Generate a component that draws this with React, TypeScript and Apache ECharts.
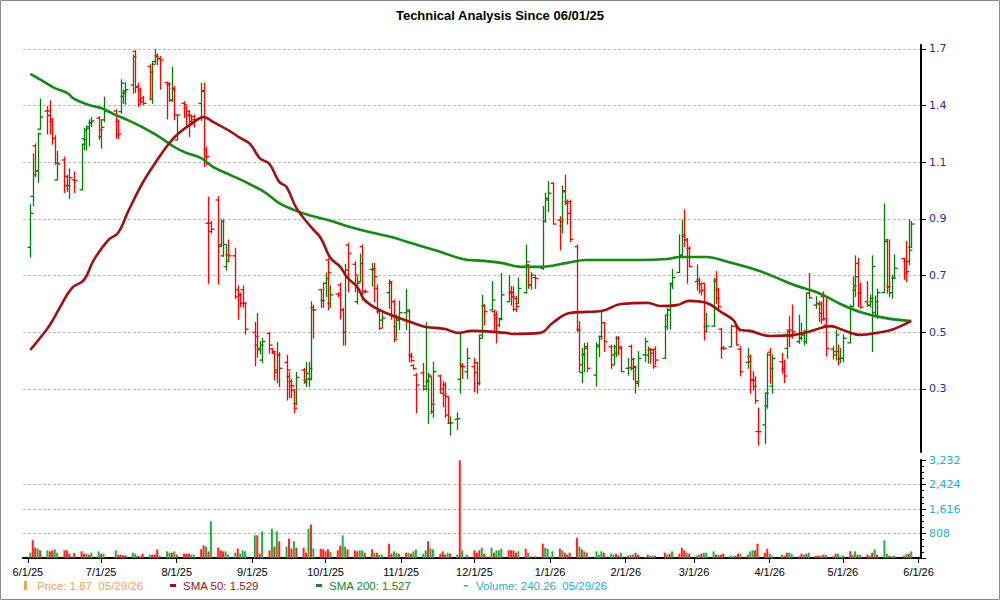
import React, { useEffect, useRef } from 'react';
import * as echarts from 'echarts';

const TITLE = 'Technical Analysis Since 06/01/25';

// Trading calendar
const FIRST_TRADING_DAY = '2025-06-02';
const LAST_TRADING_DAY = '2026-05-29';
const HOLIDAYS = ['2025-06-19', '2025-07-04', '2025-09-01', '2025-11-27', '2025-12-25', '2026-01-01', '2026-01-19', '2026-02-16', '2026-04-03', '2026-05-25'];
const AXIS_START = '2025-05-30';
const AXIS_END = '2026-06-02';
const X_TICK_DATES = ['2025-06-01', '2025-07-01', '2025-08-01', '2025-09-01', '2025-10-01', '2025-11-01', '2025-12-01', '2026-01-01', '2026-02-01', '2026-03-01', '2026-04-01', '2026-05-01', '2026-06-01'];

// Price axis: tick positions and the labels printed at them
const PRICE_TICK_VALUES = [0.3, 0.5, 0.7, 0.9, 1.1, 1.3, 1.5];
const PRICE_TICK_LABELS = ['0.3', '0.5', '0.7', '0.9', '1.1', '1.4', '1.7'];
const VOLUME_MAX = 3232;
const VOLUME_STEP = 808;

type Bar = [number, number, number, number] | null; // open, high, low, close

const junBars: Bar[] = [
  [0.80, 0.95, 0.765, 0.92], [0.98, 1.13, 0.947, 1.056], [1.158, 1.165, 1.05, 1.07], [1.07, 1.203, 1.03, 1.2], [1.217, 1.323, 1.217, 1.26],
  [1.281, 1.297, 1.2, 1.265], [1.281, 1.317, 1.2, 1.253], [1.244, 1.252, 1.164, 1.184], [1.184, 1.194, 1.093, 1.097], [1.038, 1.139, 1.038, 1.094],
  [1.108, 1.118, 0.994, 1.018], [1.05, 1.054, 0.997, 1.018], [1.018, 1.077, 0.973, 1.046], [1.038, 1.066, 0.994, 1.035], [1.003, 1.164, 1.003, 1.164],
  [1.183, 1.22, 1.144, 1.214], [1.18, 1.228, 1.144, 1.22], [1.226, 1.25, 1.158, 1.24], [1.238, 1.258, 1.226, 1.246], [1.256, 1.261, 1.181, 1.214],
];
const julBars: Bar[] = [
  [1.19, 1.25, 1.15, 1.223], [1.25, 1.33, 1.244, 1.279], null, [1.281, 1.285, 1.185, 1.197], [1.244, 1.25, 1.183, 1.2],
  [1.279, 1.391, 1.273, 1.379], [1.332, 1.356, 1.308, 1.35], [1.344, 1.381, 1.305, 1.356], [1.373, 1.479, 1.344, 1.473], [1.491, 1.493, 1.346, 1.367],
  [1.365, 1.379, 1.297, 1.32], [1.356, 1.361, 1.303, 1.314], [1.326, 1.332, 1.303, 1.308], [1.438, 1.444, 1.32, 1.418], [1.323, 1.456, 1.308, 1.446],
  [1.456, 1.499, 1.45, 1.473], [1.476, 1.483, 1.444, 1.465], [1.467, 1.473, 1.358, 1.461], [1.381, 1.383, 1.253, 1.379], [1.373, 1.379, 1.314, 1.32],
  [1.318, 1.435, 1.314, 1.356], [1.361, 1.367, 1.25, 1.267],
];
const augBars: Bar[] = [
  [1.179, 1.267, 1.179, 1.267], [1.308, 1.314, 1.259, 1.303], [1.291, 1.297, 1.232, 1.267], [1.279, 1.283, 1.191, 1.244], [1.264, 1.267, 1.232, 1.25],
  [1.261, 1.267, 1.224, 1.25], [1.308, 1.379, 1.247, 1.35], [1.353, 1.379, 1.085, 1.12], [1.144, 1.153, 1.091, 1.12], [0.885, 0.977, 0.673, 0.856],
  [0.885, 0.891, 0.85, 0.864], [0.967, 0.979, 0.67, 0.803], [0.809, 0.897, 0.803, 0.891], [0.77, 0.897, 0.767, 0.81], [0.732, 0.808, 0.72, 0.75],
  [0.773, 0.826, 0.75, 0.77], [0.77, 0.797, 0.62, 0.625], [0.65, 0.664, 0.546, 0.632], [0.632, 0.638, 0.591, 0.602], [0.65, 0.664, 0.588, 0.602],
  [0.602, 0.605, 0.494, 0.511],
];
const sepBars: Bar[] = [
  [0.5, 0.535, 0.382, 0.485], [0.455, 0.567, 0.412, 0.444], [0.438, 0.467, 0.424, 0.455], [0.402, 0.479, 0.393, 0.467], [0.496, 0.5, 0.426, 0.455],
  [0.442, 0.444, 0.428, 0.432], [0.426, 0.432, 0.332, 0.359], [0.367, 0.464, 0.322, 0.42], [0.42, 0.428, 0.308, 0.373], [0.394, 0.419, 0.261, 0.367],
  [0.344, 0.359, 0.269, 0.311], [0.326, 0.334, 0.269, 0.311], [0.296, 0.299, 0.216, 0.232], [0.249, 0.358, 0.244, 0.341], [0.367, 0.373, 0.32, 0.324],
  [0.33, 0.393, 0.308, 0.335], [0.355, 0.393, 0.308, 0.373], [0.335, 0.608, 0.332, 0.579], [0.588, 0.596, 0.479, 0.579], [0.65, 0.652, 0.588, 0.612],
  [0.612, 0.673, 0.588, 0.673],
];
const octBars: Bar[] = [
  [0.673, 0.71, 0.626, 0.69], [0.755, 0.76, 0.58, 0.71], [0.602, 0.664, 0.588, 0.632], [0.635, 0.64, 0.625, 0.632], [0.667, 0.673, 0.547, 0.579],
  [0.579, 0.585, 0.455, 0.5], [0.5, 0.74, 0.455, 0.72], [0.808, 0.814, 0.643, 0.779], [0.74, 0.749, 0.643, 0.702], [0.608, 0.696, 0.6, 0.673],
  [0.679, 0.776, 0.679, 0.743], [0.802, 0.808, 0.614, 0.643], [0.645, 0.65, 0.64, 0.643], [0.722, 0.743, 0.663, 0.725], [0.72, 0.743, 0.608, 0.696],
  [0.655, 0.667, 0.567, 0.575], [0.573, 0.579, 0.51, 0.514], [0.543, 0.567, 0.517, 0.55], [0.64, 0.685, 0.585, 0.679], [0.673, 0.679, 0.546, 0.555],
  [0.608, 0.614, 0.467, 0.475], [0.52, 0.561, 0.482, 0.543], [0.543, 0.61, 0.51, 0.569],
];
const novBars: Bar[] = [
  [0.569, 0.652, 0.51, 0.579], [0.573, 0.579, 0.396, 0.414], [0.42, 0.426, 0.396, 0.4], [0.383, 0.385, 0.369, 0.372], [0.349, 0.355, 0.216, 0.314],
  [0.357, 0.39, 0.296, 0.3], [0.31, 0.534, 0.296, 0.33], [0.326, 0.355, 0.179, 0.349], [0.343, 0.343, 0.214, 0.246], [0.22, 0.394, 0.2, 0.361],
  [0.346, 0.349, 0.285, 0.285], [0.3, 0.326, 0.237, 0.279], [0.314, 0.322, 0.2, 0.208], [0.273, 0.273, 0.181, 0.181], [0.179, 0.202, 0.137, 0.18],
  [0.193, 0.216, 0.157, 0.195], [0.334, 0.496, 0.285, 0.379], [0.385, 0.39, 0.337, 0.379], [0.361, 0.443, 0.337, 0.408],
];
const decBars: Bar[] = [
  [0.379, 0.408, 0.29, 0.357], [0.393, 0.393, 0.285, 0.32], [0.32, 0.49, 0.314, 0.49], [0.479, 0.63, 0.479, 0.596], [0.593, 0.596, 0.526, 0.573],
  [0.579, 0.679, 0.579, 0.614], [0.573, 0.579, 0.499, 0.549], [0.561, 0.573, 0.463, 0.502], [0.525, 0.549, 0.52, 0.545], [0.549, 0.708, 0.546, 0.632],
  [0.608, 0.699, 0.608, 0.643], [0.64, 0.661, 0.596, 0.626], [0.64, 0.661, 0.575, 0.581], [0.62, 0.626, 0.573, 0.591], [0.602, 0.691, 0.602, 0.655],
  [0.64, 0.808, 0.638, 0.749], [0.738, 0.74, 0.655, 0.667], [0.667, 0.711, 0.652, 0.702], [0.693, 0.702, 0.655, 0.69], [0.726, 0.944, 0.722, 0.891],
  [0.891, 0.991, 0.891, 0.973], [0.967, 1.032, 0.926, 0.991],
];
const janBars: Bar[] = [
  [1.026, 1.028, 0.882, 0.882], [0.896, 0.908, 0.791, 0.891], [0.875, 1.016, 0.85, 0.996], [1.0, 1.055, 0.95, 0.955], [0.961, 0.967, 0.882, 0.92],
  [0.961, 0.967, 0.82, 0.828], [0.802, 0.808, 0.502, 0.508], [0.511, 0.538, 0.361, 0.385], [0.358, 0.443, 0.322, 0.423], [0.42, 0.461, 0.361, 0.449],
  [0.443, 0.463, 0.361, 0.373], [0.349, 0.463, 0.31, 0.455], [0.449, 0.487, 0.414, 0.485], [0.485, 0.573, 0.475, 0.534], [0.534, 0.534, 0.432, 0.467],
  [0.449, 0.455, 0.373, 0.385], [0.42, 0.455, 0.385, 0.426], [0.449, 0.485, 0.414, 0.479], [0.479, 0.485, 0.42, 0.449], [0.443, 0.449, 0.361, 0.361],
];
const febBars: Bar[] = [
  [0.373, 0.408, 0.349, 0.375], [0.45, 0.455, 0.367, 0.405], [0.373, 0.408, 0.332, 0.376], [0.379, 0.381, 0.285, 0.326], [0.32, 0.432, 0.308, 0.408],
  [0.42, 0.479, 0.396, 0.467], [0.42, 0.449, 0.391, 0.44], [0.438, 0.443, 0.391, 0.426], [0.438, 0.44, 0.373, 0.379], [0.44, 0.449, 0.385, 0.402],
  [0.408, 0.561, 0.408, 0.561], [0.52, 0.585, 0.511, 0.579], [0.579, 0.673, 0.511, 0.667], [0.673, 0.722, 0.655, 0.693], [0.711, 0.844, 0.711, 0.77],
  [0.773, 0.896, 0.773, 0.844], [0.838, 0.932, 0.802, 0.826], [0.826, 0.832, 0.673, 0.796], [0.796, 0.802, 0.732, 0.732],
];
const marBars: Bar[] = [
  [0.679, 0.738, 0.649, 0.681], [0.685, 0.691, 0.638, 0.645], [0.67, 0.673, 0.632, 0.649], [0.673, 0.673, 0.473, 0.502], [0.52, 0.567, 0.502, 0.522],
  [0.522, 0.691, 0.52, 0.685], [0.68, 0.714, 0.602, 0.62], [0.65, 0.655, 0.579, 0.59], [0.511, 0.514, 0.408, 0.443], [0.445, 0.45, 0.44, 0.443],
  [0.449, 0.526, 0.449, 0.522], null, [0.52, 0.526, 0.455, 0.455], null, [0.44, 0.449, 0.346, 0.361],
  [0.394, 0.443, 0.373, 0.396], [0.414, 0.42, 0.285, 0.332], [0.332, 0.361, 0.296, 0.31], [0.33, 0.343, 0.249, 0.259], [0.15, 0.232, 0.102, 0.149],
  [0.173, 0.287, 0.108, 0.285], [0.24, 0.426, 0.232, 0.42],
];
const aprBars: Bar[] = [
  [0.43, 0.443, 0.32, 0.373], [0.31, 0.42, 0.285, 0.408], [0.396, 0.426, 0.355, 0.373], [0.367, 0.402, 0.322, 0.346], [0.443, 0.502, 0.408, 0.502],
  [0.508, 0.555, 0.449, 0.485], [0.508, 0.596, 0.479, 0.502], [0.467, 0.561, 0.461, 0.479], [0.48, 0.532, 0.473, 0.496], [0.49, 0.508, 0.455, 0.502],
  [0.467, 0.638, 0.461, 0.638], [0.638, 0.708, 0.62, 0.622], [0.596, 0.626, 0.585, 0.6], [0.602, 0.608, 0.538, 0.567], [0.6, 0.608, 0.532, 0.544],
  [0.626, 0.643, 0.544, 0.548], [0.526, 0.626, 0.416, 0.443], [0.44, 0.449, 0.405, 0.432], [0.42, 0.508, 0.402, 0.491], [0.432, 0.455, 0.385, 0.41],
  [0.405, 0.443, 0.393, 0.408],
];
const mayBars: Bar[] = [
  [0.408, 0.491, 0.396, 0.479], [0.463, 0.596, 0.463, 0.591], [0.591, 0.696, 0.591, 0.664], [0.649, 0.77, 0.626, 0.696], [0.743, 0.761, 0.591, 0.638],
  [0.638, 0.673, 0.585, 0.589], [0.608, 0.679, 0.591, 0.596], [0.595, 0.632, 0.589, 0.62], [0.608, 0.77, 0.432, 0.732], [0.57, 0.628, 0.555, 0.608],
  [0.56, 0.652, 0.549, 0.64], [0.64, 0.953, 0.64, 0.82], [0.826, 0.828, 0.638, 0.661], [0.66, 0.826, 0.626, 0.64], [0.64, 0.702, 0.62, 0.691],
  [0.691, 0.773, 0.691, 0.726], [0.76, 0.761, 0.687, 0.708], [0.749, 0.82, 0.679, 0.714], [0.75, 0.896, 0.738, 0.79], [0.8, 0.891, 0.8, 0.882],
];

// Daily volume and its bar colour (g = up, r = down, - = none)
const junVolume = [176, 583, 341, 308, 253, 253, 220, 253, 286, 176, 253, 253, 143, 165, 220, 143, 143, 110, 176, 220];
const julVolume = [143, 143, 0, 253, 110, 110, 88, 88, 176, 143, 77, 55, 143, 110, 110, 110, 286, 77, 220, 176, 176, 220];
const augVolume = [110, 143, 143, 143, 110, 110, 286, 418, 374, 220, 1210, 341, 253, 220, 220, 110, 176, 308, 143, 253, 220];
const sepVolume = [748, 748, 143, 880, 253, 968, 374, 880, 550, 374, 638, 308, 550, 341, 341, 176, 968, 1100, 308, 308, 286];
const octVolume = [220, 286, 198, 253, 407, 748, 374, 286, 253, 220, 253, 253, 176, 286, 176, 176, 110, 110, 473, 143, 220, 176, 143];
const novVolume = [176, 176, 143, 220, 286, 143, 253, 550, 308, 286, 143, 220, 110, 176, 143, 110, 3223, 253, 110];
const decVolume = [253, 176, 253, 341, 143, 341, 176, 253, 253, 308, 253, 253, 253, 176, 220, 308, 176, 55, 55, 473, 341, 308];
const janVolume = [220, 308, 253, 176, 110, 176, 671, 374, 286, 220, 176, 220, 110, 220, 176, 143, 110, 143, 77, 176];
const febVolume = [77, 110, 110, 176, 110, 33, 110, 77, 77, 77, 176, 110, 143, 220, 143, 341, 253, 176, 143];
const marVolume = [77, 110, 143, 176, 176, 220, 110, 110, 110, 143, 77, 55, 77, 143, 143, 110, 220, 253, 253, 473, 176, 308];
const aprVolume = [143, 77, 110, 77, 176, 176, 143, 55, 143, 110, 143, 176, 77, 77, 77, 110, 110, 55, 143, 143, 55];
const mayVolume = [77, 220, 110, 220, 110, 110, 110, 77, 176, 286, 110, 583, 143, 77, 55, 77, 77, 143, 143, 220];

const junVolumeDir = 'grrgrgrrggrrrrrrgrgg';
const julVolumeDir = 'rg-grrrrggrrrgrrrgggrg';
const augVolumeDir = 'rrrrggrrgrgrrrgggrggg';
const sepVolumeDir = 'grrgrgrgrgrrgrrrgrgrr';
const octVolumeDir = 'rrgrrggrrrggrrgrggrrggr';
const novVolumeDir = 'rgrggggrggrrrgrgrgg';
const decVolumeDir = 'rrrgrgrgggrrrrgrgrrrgg';
const janVolumeDir = 'grgrrrrgrgrgggrggrrg';
const febVolumeDir = 'rggrrgrggrrgrgrrrgr';
const marVolumeDir = 'ggrgggrgrrggrrgrggrrrr';
const aprVolumeDir = 'gggrrggrrgrgrrgrgrrgg';
const mayVolumeDir = 'grggrgrgrgrggrggrgrg';

// Moving averages: day offset from 2025-06-01, value
const SMA_ORIGIN = '2025-06-01';
const sma200Days = [1, 6, 11, 16, 19, 25, 30, 35, 41, 46, 54, 60, 65, 71, 76, 83, 90, 97, 103, 109, 115, 123, 132, 140, 149, 157, 168, 178, 187, 194, 202, 210, 221, 229, 251, 262, 267, 278, 287, 296, 301, 307, 314, 324, 333, 341, 351, 362];
const sma200Values = [1.412, 1.387, 1.362, 1.345, 1.324, 1.302, 1.292, 1.271, 1.249, 1.228, 1.189, 1.154, 1.133, 1.115, 1.083, 1.055, 1.027, 0.995, 0.956, 0.932, 0.914, 0.896, 0.872, 0.854, 0.836, 0.815, 0.787, 0.759, 0.752, 0.745, 0.731, 0.731, 0.745, 0.755, 0.755, 0.759, 0.766, 0.766, 0.748, 0.727, 0.713, 0.692, 0.667, 0.639, 0.6, 0.572, 0.551, 0.54];
const sma50Days = [1, 5, 9, 13, 18, 23, 27, 33, 37, 41, 47, 53, 58, 62, 68, 72, 76, 82, 87, 91, 95, 99, 103, 106, 110, 116, 120, 124, 128, 131, 135, 138, 144, 151, 158, 163, 171, 176, 182, 196, 199, 210, 215, 222, 229, 235, 243, 254, 259, 266, 271, 278, 284, 289, 292, 296, 304, 314, 321, 329, 334, 341, 348, 355, 362];
const sma50Values = [0.438, 0.48, 0.526, 0.586, 0.656, 0.685, 0.755, 0.826, 0.851, 0.925, 1.027, 1.108, 1.168, 1.204, 1.242, 1.26, 1.242, 1.214, 1.186, 1.165, 1.115, 1.094, 1.031, 1.013, 0.939, 0.872, 0.833, 0.762, 0.731, 0.692, 0.66, 0.614, 0.579, 0.554, 0.533, 0.519, 0.512, 0.498, 0.505, 0.498, 0.494, 0.498, 0.533, 0.568, 0.572, 0.575, 0.6, 0.604, 0.593, 0.596, 0.611, 0.604, 0.572, 0.544, 0.508, 0.505, 0.487, 0.491, 0.505, 0.522, 0.508, 0.491, 0.498, 0.512, 0.54];

const LEGEND_LABELS = ['Price: 1.87  05/29/26', 'SMA 50: 1.529', 'SMA 200: 1.527', 'Volume: 240.26  05/29/26'];

const COLORS = {
  up: '#008000',
  down: '#ff0000',
  volUp: '#1fb040',
  volDown: '#ff2020',
  sma50: '#a01212',
  sma200: '#138a13',
  price: '#f5a54a',
  volume: '#1fb0c4',
  priceAxis: '#2a2aa6',
};

function toTime(s: string): number {
  const [y, m, d] = s.split('-').map(Number);
  return new Date(y, m - 1, d).getTime();
}
function keyOf(d: Date): string {
  return `${d.getFullYear()}-${String(d.getMonth() + 1).padStart(2, '0')}-${String(d.getDate()).padStart(2, '0')}`;
}
function tradingDays(): number[] {
  const hol = new Set(HOLIDAYS);
  const out: number[] = [];
  const d = new Date(toTime(FIRST_TRADING_DAY));
  const end = toTime(LAST_TRADING_DAY);
  while (d.getTime() <= end) {
    const dow = d.getDay();
    if (dow !== 0 && dow !== 6 && !hol.has(keyOf(d))) out.push(d.getTime());
    d.setDate(d.getDate() + 1);
  }
  return out;
}

export default function App() {
  const ref = useRef<HTMLDivElement>(null);
  useEffect(() => {
    if (!ref.current) return;
    const chart = echarts.init(ref.current, null, { renderer: 'svg' });

    const days = tradingDays();
    const bars = [junBars, julBars, augBars, sepBars, octBars, novBars, decBars, janBars, febBars, marBars, aprBars, mayBars].flat();
    const vols = [junVolume, julVolume, augVolume, sepVolume, octVolume, novVolume, decVolume, janVolume, febVolume, marVolume, aprVolume, mayVolume].flat();
    const dirs = [junVolumeDir, julVolumeDir, augVolumeDir, sepVolumeDir, octVolumeDir, novVolumeDir, decVolumeDir, janVolumeDir, febVolumeDir, marVolumeDir, aprVolumeDir, mayVolumeDir].join('');

    const ohlcData: number[][] = [];
    const volData: any[] = [];
    days.forEach((t, i) => {
      const b = bars[i];
      if (b) ohlcData.push([t, b[0], b[1], b[2], b[3]]);
      const v = vols[i];
      if (v && v > 0) {
        volData.push({ value: [t, v], itemStyle: { color: dirs[i] === 'r' ? COLORS.volDown : COLORS.volUp } });
      }
    });

    const origin = toTime(SMA_ORIGIN);
    const DAY = 86400000;
    const sma200 = sma200Days.map((d, i) => [origin + d * DAY, sma200Values[i]]);
    const sma50 = sma50Days.map((d, i) => [origin + d * DAY, sma50Values[i]]);

    const xMin = toTime(AXIS_START);
    const xMax = toTime(AXIS_END);
    const monthTicks = X_TICK_DATES.map(toTime);

    const priceLabel = (v: number) => {
      const i = PRICE_TICK_VALUES.findIndex((t) => Math.abs(t - v) < 1e-6);
      return i >= 0 ? PRICE_TICK_LABELS[i] : '';
    };
    const dateLabel = (v: number) => {
      const i = monthTicks.findIndex((t) => Math.abs(t - v) < 3600000);
      if (i < 0) return '';
      const d = new Date(monthTicks[i]);
      return `${d.getMonth() + 1}/${d.getDate()}/${String(d.getFullYear()).slice(2)}`;
    };

    const legendX = [24, 170, 316, 463];
    const legendColors = [COLORS.price, COLORS.sma50, COLORS.sma200, COLORS.volume];
    const legendGraphics: any[] = [];
    LEGEND_LABELS.forEach((label, i) => {
      const x = legendX[i];
      const marker =
        i === 0
          ? { type: 'rect', shape: { x, y: 581, width: 3, height: 9 }, style: { fill: legendColors[i] } }
          : i === 3
          ? { type: 'rect', shape: { x: x + 1, y: 585, width: 4, height: 1.5 }, style: { fill: legendColors[i] } }
          : { type: 'rect', shape: { x, y: 584, width: 6, height: 3 }, style: { fill: legendColors[i] } };
      legendGraphics.push(marker);
      legendGraphics.push({
        type: 'text',
        x: x + 13,
        y: 586,
        style: { text: label, fill: legendColors[i], fontSize: 11.5, fontFamily: 'Liberation Sans, Arial, sans-serif', verticalAlign: 'middle' },
      });
    });

    const gridLeft = 23;
    const gridWidth = 898;

    const option: any = {
      animation: false,
      backgroundColor: '#ffffff',
      title: {
        text: TITLE,
        left: 'center',
        top: 4,
        textStyle: { fontSize: 13, fontWeight: 'bold', fontFamily: 'Liberation Sans, Arial, sans-serif', color: '#000' },
      },
      graphic: [
        { type: 'rect', silent: true, z: -10, shape: { x: 0.5, y: 0.5, width: 999, height: 599 }, style: { fill: 'none', stroke: '#8a8a8a', lineWidth: 1 } },
        ...legendGraphics,
      ],
      grid: [
        { left: gridLeft, top: 45, width: gridWidth, height: 407 },
        { left: gridLeft, top: 460, width: gridWidth, height: 98 },
      ],
      xAxis: [
        { type: 'value', gridIndex: 0, min: xMin, max: xMax, show: false, splitLine: { show: false } },
        {
          type: 'value',
          gridIndex: 1,
          min: xMin,
          max: xMax,
          axisLine: { show: true, lineStyle: { color: '#000', width: 2 } },
          axisTick: { show: true, length: 5, customValues: monthTicks, lineStyle: { color: '#000', width: 1 } },
          axisLabel: {
            customValues: monthTicks,
            formatter: dateLabel,
            color: '#000',
            fontSize: 11,
            fontFamily: 'Liberation Sans, Arial, sans-serif',
            margin: 8,
          },
          splitLine: { show: false },
        },
      ],
      yAxis: [
        {
          type: 'value',
          gridIndex: 0,
          position: 'right',
          min: 0.0776,
          max: 1.514,
          axisLine: { show: true, lineStyle: { color: '#000', width: 2 } },
          axisTick: { show: true, length: 5, customValues: PRICE_TICK_VALUES, lineStyle: { color: '#000' } },
          axisLabel: {
            customValues: PRICE_TICK_VALUES,
            formatter: priceLabel,
            color: COLORS.priceAxis,
            fontSize: 11,
            fontFamily: 'DejaVu Sans, Verdana, sans-serif',
            margin: 8,
          },
          splitLine: { show: true, lineStyle: { color: '#bdbdbd', type: [3, 2], width: 1 } },
        },
        {
          type: 'value',
          gridIndex: 1,
          position: 'right',
          min: 0,
          max: VOLUME_MAX,
          interval: VOLUME_STEP,
          axisLine: { show: true, lineStyle: { color: '#000', width: 2 } },
          axisTick: { show: true, length: 5, lineStyle: { color: '#000' } },
          minorTick: { show: true, splitNumber: 4, length: 3, lineStyle: { color: '#000' } },
          axisLabel: {
            formatter: (v: number) => (v === 0 ? '' : v.toLocaleString('en-US')),
            color: COLORS.volume,
            fontSize: 11,
            fontFamily: 'DejaVu Sans, Verdana, sans-serif',
            margin: 8,
          },
          splitLine: { show: true, showMinLine: false, showMaxLine: false, lineStyle: { color: '#bdbdbd', type: [3, 2], width: 1 } },
        },
      ],
      series: [
        {
          type: 'custom',
          name: 'Price',
          xAxisIndex: 0,
          yAxisIndex: 0,
          clip: true,
          z: 2,
          encode: { x: 0, y: [1, 2, 3, 4] },
          data: ohlcData,
          renderItem: (params: any, api: any) => {
            const t = api.value(0);
            const o = api.value(1);
            const h = api.value(2);
            const l = api.value(3);
            const c = api.value(4);
            const po = api.coord([t, o]);
            const ph = api.coord([t, h]);
            const pl = api.coord([t, l]);
            const pc = api.coord([t, c]);
            const color = c >= o ? COLORS.up : COLORS.down;
            const x = Math.round(po[0]) + 0.5;
            const st = { stroke: color, lineWidth: 1.3 };
            return {
              type: 'group',
              children: [
                { type: 'line', shape: { x1: x, y1: ph[1] - 0.5, x2: x, y2: pl[1] + 0.5 }, style: st },
                { type: 'line', shape: { x1: x - 3, y1: po[1], x2: x, y2: po[1] }, style: st },
                { type: 'line', shape: { x1: x, y1: pc[1], x2: x + 3, y2: pc[1] }, style: st },
              ],
            };
          },
        },
        {
          type: 'line',
          name: 'SMA 200',
          xAxisIndex: 0,
          yAxisIndex: 0,
          data: sma200,
          showSymbol: false,
          smooth: 0.4,
          z: 3,
          lineStyle: { color: COLORS.sma200, width: 2.6 },
        },
        {
          type: 'line',
          name: 'SMA 50',
          xAxisIndex: 0,
          yAxisIndex: 0,
          data: sma50,
          showSymbol: false,
          smooth: 0.4,
          z: 4,
          lineStyle: { color: COLORS.sma50, width: 2.6 },
        },
        {
          type: 'bar',
          name: 'Volume',
          xAxisIndex: 1,
          yAxisIndex: 1,
          barWidth: 2,
          data: volData,
        },
      ],
    };

    chart.setOption(option);
    return () => chart.dispose();
  }, []);

  return (
    <div
      ref={ref}
      style={{ position: 'absolute', left: 0, top: 0, width: 1000, height: 600, background: '#fff' }}
    />
  );
}
